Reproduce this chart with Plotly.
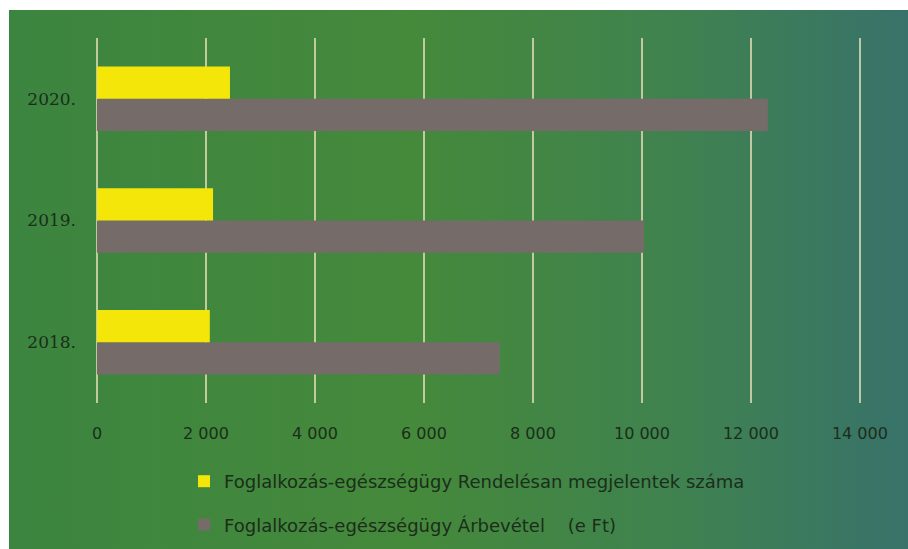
import plotly.graph_objects as go

years = ["2018.", "2019.", "2020."]
rendeles = [2070, 2130, 2440]
arbevetel = [7390, 10040, 12310]
x_tick_vals = [0, 2000, 4000, 6000, 8000, 10000, 12000, 14000]
x_tick_labels = ["0", "2 000", "4 000", "6 000", "8 000", "10 000", "12 000", "14 000"]
name_rendeles = "Foglalkozás-egészségügy Rendelésan megjelentek száma"
name_arbevetel = "Foglalkozás-egészségügy Árbevétel    (e Ft)"

W, H = 908, 549
L, R, T, B = 97, 861, 38, 403
TXT = "#1b2e1a"
GRID = "rgba(225,220,180,0.8)"

fig = go.Figure()

fig.add_trace(go.Scatter(
    x=[9 / W, 1, 1, 9 / W, 9 / W], y=[0, 0, (H - 10) / H, (H - 10) / H, 0],
    xaxis="x", yaxis="y", mode="lines", line=dict(width=0),
    fill="toself",
    fillgradient=dict(type="horizontal",
                      colorscale=[[0, "#3c8540"], [0.45, "#45893b"], [0.75, "#3f8250"], [1, "#38726a"]]),
    hoverinfo="skip", showlegend=False,
))

fig.add_trace(go.Bar(
    y=years, x=arbevetel, orientation="h", name=name_arbevetel,
    marker=dict(color="#756c69", line=dict(width=0)),
    xaxis="x2", yaxis="y2", legendrank=2, legendgroup="b",
))
fig.add_trace(go.Bar(
    y=years, x=rendeles, orientation="h", name=name_rendeles,
    marker=dict(color="#f5e60a", line=dict(width=0)),
    xaxis="x2", yaxis="y2", legendrank=1, legendgroup="a",
))

fig.update_layout(
    width=W, height=H,
    margin=dict(l=0, r=0, t=0, b=0, pad=0, autoexpand=False),
    paper_bgcolor="white", plot_bgcolor="rgba(0,0,0,0)",
    barmode="group", bargap=0.47, bargroupgap=0,
    font=dict(family="DejaVu Sans", size=16, color=TXT),
    xaxis=dict(domain=[0, 1], range=[0, 1], visible=False, fixedrange=True),
    yaxis=dict(domain=[0, 1], range=[0, 1], visible=False, fixedrange=True),
    xaxis2=dict(domain=[L / W, R / W], anchor="y2", range=[0, 14020],
                tickvals=x_tick_vals, ticktext=x_tick_labels,
                showgrid=True, gridcolor=GRID, gridwidth=1.5,
                zeroline=True, zerolinecolor=GRID, zerolinewidth=1.5,
                showline=False, ticks="", automargin=False,
                tickfont=dict(family="DejaVu Sans", size=16, color=TXT),
                ticklabelstandoff=19),
    yaxis2=dict(domain=[(H - B) / H, (H - T) / H], anchor="x2",
                type="category", categoryorder="array", categoryarray=years,
                showgrid=False, zeroline=False, showline=False, ticks="",
                automargin=False,
                tickfont=dict(family="DejaVu Serif", size=17, color=TXT),
                ticklabelstandoff=20),
    legend=dict(x=184 / W, y=(H - 463) / H, xanchor="left", yanchor="top",
                bgcolor="rgba(0,0,0,0)", font=dict(size=18, color=TXT),
                tracegroupgap=17, itemwidth=30),
    showlegend=True,
)

post = (
    "document.documentElement.style.margin='0';"
    "document.body.style.margin='0';"
    "document.documentElement.style.overflow='hidden';"
    "document.body.style.overflow='hidden';"
)

fig.write_html("out.html", post_script=post, config={"displayModeBar": False})
